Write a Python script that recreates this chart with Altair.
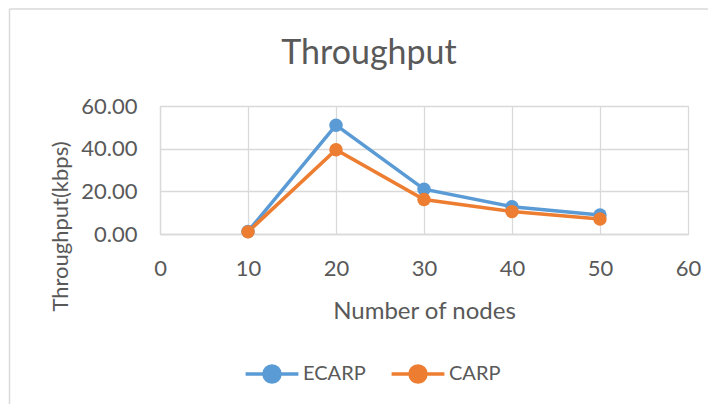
import altair as alt
import pandas as pd

nodes = [10, 20, 30, 40, 50]
ecarp = [1.2, 51.0, 21.0, 12.8, 8.9]
carp = [1.0, 39.5, 16.2, 10.5, 7.0]
series = ["ECARP", "CARP"]
colors = ["#5b9bd5", "#ed7d31"]
x_ticks = [0, 10, 20, 30, 40, 50, 60]
y_ticks = [0, 20, 40, 60]
chart_title = "Throughput"

df = pd.DataFrame(
    {
        "nodes": nodes * 2,
        "value": ecarp + carp,
        "series": [series[0]] * len(nodes) + [series[1]] * len(nodes),
    }
)
one = pd.DataFrame({"t": [chart_title]})

FONT = "Lato"
TXT = "#595959"
GRID = "#d9d9d9"

legend_symbol = "M-3.3,0L3.3,0M1,0A1,1,0,1,1,-1,0A1,1,0,1,1,1,0Z"

x_enc = alt.X(
    "nodes:Q",
    scale=alt.Scale(domain=[0, 60], nice=False),
    axis=alt.Axis(
        values=x_ticks,
        grid=True,
        gridColor=GRID,
        gridWidth=1.3,
        domainColor=GRID,
        domainWidth=1.3,
        ticks=False,
        labelFlush=False,
        labelFont=FONT,
        labelFontSize=22,
        labelColor=TXT,
        labelPadding=24,
        title="Number of nodes",
        titleFont=FONT,
        titleFontSize=24,
        titleFontWeight="normal",
        titleColor=TXT,
        titlePadding=20,
    ),
)
y_enc = alt.Y(
    "value:Q",
    scale=alt.Scale(domain=[0, 60], nice=False),
    axis=alt.Axis(
        values=y_ticks,
        format=".2f",
        grid=True,
        gridColor=GRID,
        gridWidth=1.3,
        domainColor=GRID,
        domainWidth=1.3,
        ticks=False,
        labelFlush=False,
        labelFont=FONT,
        labelFontSize=22,
        labelColor=TXT,
        labelPadding=23,
        title="Throughput(kbps)",
        titleFont=FONT,
        titleFontSize=22,
        titleFontWeight="normal",
        titleColor=TXT,
        titleX=-88,
        titleY=120,
    ),
)
color_enc = alt.Color(
    "series:N",
    scale=alt.Scale(domain=series, range=colors),
    sort=series,
    legend=alt.Legend(
        title=None,
        orient="none",
        direction="horizontal",
        legendX=102,
        legendY=258,
        symbolType=legend_symbol,
        symbolSize=256,
        symbolStrokeWidth=3.5,
        labelFont=FONT,
        labelFontSize=20,
        labelColor=TXT,
        columnPadding=18,
        labelOffset=21,
    ),
)

lines = alt.Chart(df).mark_line(strokeWidth=3.5).encode(
    x=x_enc, y=y_enc, color=color_enc, detail="series:N"
)
points = alt.Chart(df).mark_point(filled=True, size=180, opacity=1).encode(
    x="nodes:Q",
    y="value:Q",
    color=alt.Color("series:N", scale=alt.Scale(domain=series, range=colors), legend=None),
)

title_mark = alt.Chart(one).mark_text(
    font=FONT, fontSize=34, fontWeight="normal", color=TXT, align="center", baseline="alphabetic"
).encode(x=alt.value(209), y=alt.value(-42), text="t:N")

border_left = alt.Chart(one).mark_rule(color=GRID, strokeWidth=1.5).encode(
    x=alt.value(-150.5), y=alt.value(-97), y2=alt.value(300)
)
border_top = alt.Chart(one).mark_rule(color=GRID, strokeWidth=1.5).encode(
    x=alt.value(-150.5), x2=alt.value(600), y=alt.value(-97)
)

chart = (
    alt.layer(border_left, border_top, title_mark, lines, points)
    .properties(
        width=528,
        height=128,
        autosize=alt.AutoSizeParams(type="none"),
        padding={"left": 152, "top": 98, "right": 20, "bottom": 170},
    )
    .configure_view(stroke=None)
    .configure(background="white")
)

chart.save("out.html", embed_options={"renderer": "svg", "actions": False})
